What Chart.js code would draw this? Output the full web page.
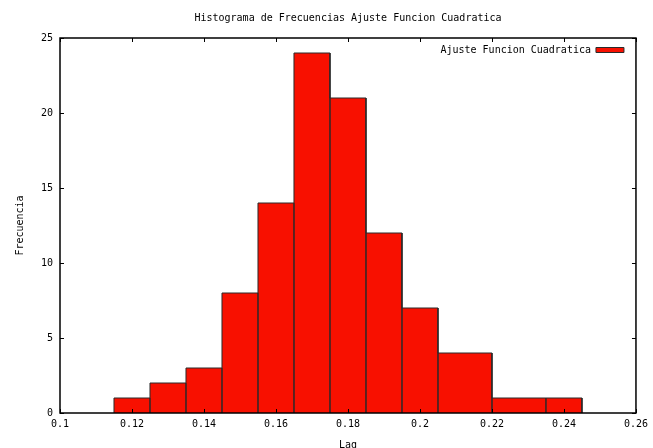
<!DOCTYPE html>
<html>
<head>
<meta charset="utf-8">
<script src="https://cdn.jsdelivr.net/npm/chart.js@4"></script>
<style>
  body { margin: 0; background: #fff; }
  canvas { display: block; }
</style>
</head>
<body>
<canvas id="histChart" width="653" height="448"></canvas>
<script>
// data
const lagValues = [0.12, 0.13, 0.14, 0.15, 0.16, 0.17, 0.18, 0.19, 0.20, 0.21, 0.23, 0.24];
const frecuencias = [1, 2, 3, 8, 14, 24, 21, 12, 7, 4, 1, 1];
const xTicks = [0.1, 0.12, 0.14, 0.16, 0.18, 0.2, 0.22, 0.24, 0.26];
const yTicks = [0, 5, 10, 15, 20, 25];

// gnuplot "with boxes": each box reaches halfway to its neighbours
function boxOutline(xs, ys) {
  const pts = [];
  xs.forEach((x, i) => {
    const left = i > 0 ? (xs[i - 1] + x) / 2 : x - (xs[1] - xs[0]) / 2;
    const right = i < xs.length - 1 ? (x + xs[i + 1]) / 2 : x + (x - xs[i - 1]) / 2;
    pts.push({ x: left, y: 0 }, { x: left, y: ys[i] }, { x: right, y: ys[i] }, { x: right, y: 0 });
  });
  return pts;
}

const monoFont = { family: 'DejaVu Sans Mono', size: 10 };

// frame + inward tick marks like gnuplot
const framePlugin = {
  id: 'frame',
  afterLayout(chart) {
    // key sits in the top right corner of the plot
    const lg = chart.legend;
    const w = lg.width;
    lg.left = chart.chartArea.right - w - 6;
    lg.right = lg.left + w;
    lg.top = chart.chartArea.top + 1;
  },
  afterDatasetsDraw(chart) {
    const { ctx, chartArea: a, scales } = chart;
    ctx.save();
    ctx.strokeStyle = '#000';
    ctx.lineWidth = 1;
    ctx.beginPath();
    xTicks.forEach((v) => {
      const px = Math.round(scales.x.getPixelForValue(v)) + 0.5;
      ctx.moveTo(px, a.bottom); ctx.lineTo(px, a.bottom - 4);
      ctx.moveTo(px, a.top); ctx.lineTo(px, a.top + 4);
    });
    yTicks.forEach((v) => {
      const py = Math.round(scales.y.getPixelForValue(v)) + 0.5;
      ctx.moveTo(a.left, py); ctx.lineTo(a.left + 4, py);
      ctx.moveTo(a.right, py); ctx.lineTo(a.right - 4, py);
    });
    ctx.stroke();
    ctx.lineWidth = 1.5;
    ctx.strokeRect(a.left, a.top, a.right - a.left, a.bottom - a.top);
    ctx.restore();
  },
};

new Chart(document.getElementById('histChart'), {
  type: 'line',
  data: {
    datasets: [
      {
        label: 'Ajuste Funcion Cuadratica',
        data: boxOutline(lagValues, frecuencias),
        borderColor: '#2a2a2a',
        borderWidth: 1,
        backgroundColor: '#f81000',
        fill: 'origin',
        pointRadius: 0,
        tension: 0,
      },
    ],
  },
  options: {
    responsive: false,
    animation: false,
    layout: { padding: 0 },
    plugins: {
      title: {
        display: true,
        text: 'Histograma de Frecuencias Ajuste Funcion Cuadratica',
        fullSize: false,
        color: '#000',
        font: { ...monoFont, weight: 'normal' },
        padding: { top: 12, bottom: 14 },
      },
      legend: {
        position: 'chartArea',
        align: 'start',
        rtl: true,
        textDirection: 'ltr',
        labels: {
          color: '#000',
          font: monoFont,
          boxWidth: 28,
          boxHeight: 5,
          padding: 6,
        },
      },
      tooltip: { enabled: false },
    },
    scales: {
      x: {
        type: 'linear',
        min: 0.1,
        max: 0.26,
        afterBuildTicks: (s) => { s.ticks = xTicks.map((v) => ({ value: v })); },
        afterFit: (s) => { s.height = 35; },
        grid: { display: false, drawTicks: false },
        border: { display: false },
        ticks: { color: '#000', font: monoFont, padding: 5, maxRotation: 0, callback: (v) => String(+v.toFixed(2)) },
        title: { display: true, text: 'Lag', color: '#000', font: monoFont, padding: { top: 0, bottom: -3 } },
      },
      y: {
        min: 0,
        max: 25,
        afterBuildTicks: (s) => { s.ticks = yTicks.map((v) => ({ value: v })); },
        afterFit: (s) => { s.width = 60; },
        grid: { display: false, drawTicks: false },
        border: { display: false },
        ticks: { color: '#000', font: monoFont, padding: 7 },
        title: { display: true, text: 'Frecuencia', color: '#000', font: monoFont, padding: { top: 14 } },
      },
    },
  },
  plugins: [framePlugin],
});
</script>
</body>
</html>
